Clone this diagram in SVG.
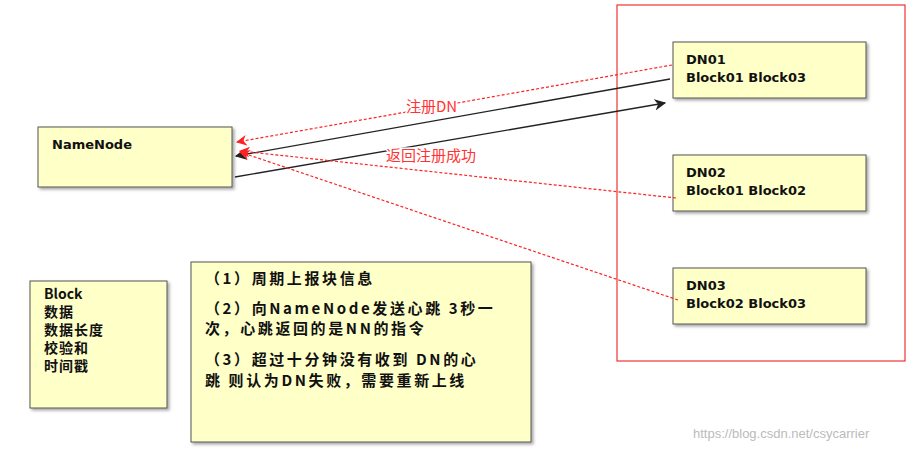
<svg xmlns="http://www.w3.org/2000/svg" width="913" height="452" viewBox="0 0 913 452">
<style>
.box{fill:#ffffc8;stroke:#555;stroke-width:1}
.t{font-family:"DejaVu Sans","Noto Sans CJK SC",sans-serif;font-weight:bold;font-size:13px;fill:#111}
.c{font-family:"Noto Sans CJK SC",sans-serif;font-weight:bold;font-size:15px;letter-spacing:2.6px;fill:#111}
.b{font-family:"Noto Sans CJK SC",sans-serif;font-weight:bold;font-size:14px;letter-spacing:1px;fill:#111}
.lbl{font-family:"Noto Sans CJK SC",sans-serif;font-size:15px;fill:#ff3333;stroke:#fff;stroke-width:3;paint-order:stroke}
.blk{stroke:#222;stroke-width:1.3;fill:none}
.red{stroke:#ff2222;stroke-width:1.2;stroke-dasharray:3 2;fill:none}
</style>
<defs>
<filter id="sh" x="-10%" y="-10%" width="130%" height="130%"><feDropShadow dx="2" dy="2" stdDeviation="1.5" flood-color="#000" flood-opacity="0.35"/></filter>
<marker id="ab" viewBox="0 0 10 10" refX="9" refY="5" markerWidth="9" markerHeight="9" orient="auto"><path d="M0,0 L10,5 L0,10 L3,5 z" fill="#222"/></marker>
<marker id="ar" viewBox="0 0 10 10" refX="9" refY="5" markerWidth="9" markerHeight="9" orient="auto"><path d="M0,0 L10,5 L0,10 L3,5 z" fill="#ff2222"/></marker>
</defs>
<rect x="617" y="5" width="288" height="356" fill="none" stroke="#ee3333" stroke-width="1.2"/>
<g id="namenode"><rect class="box" filter="url(#sh)" x="38" y="127" width="194" height="60"/><text class="t" x="52" y="149">NameNode</text></g>
<g id="block"><rect class="box" filter="url(#sh)" x="30" y="281" width="137" height="127"/>
<text class="b" x="44" y="299" style="letter-spacing:0">Block</text><text class="b" x="44" y="317">数据</text><text class="b" x="44" y="335">数据长度</text><text class="b" x="44" y="353">校验和</text><text class="b" x="44" y="371">时间戳</text></g>
<g id="info"><rect class="box" filter="url(#sh)" x="191" y="262" width="340" height="180"/>
<text class="c" x="205" y="284">（1）周期上报块信息</text>
<text class="c" x="205" y="314">（2）向NameNode发送心跳 3秒一</text>
<text class="c" x="205" y="334">次，心跳返回的是NN的指令</text>
<text class="c" x="205" y="365">（3）超过十分钟没有收到 DN的心</text>
<text class="c" x="205" y="386">跳 则认为DN失败，需要重新上线</text></g>
<g id="dn01"><rect class="box" filter="url(#sh)" x="673" y="42" width="193" height="56"/><text class="t" x="686" y="64">DN01</text><text class="t" x="686" y="82">Block01 Block03</text></g>
<g id="dn02"><rect class="box" filter="url(#sh)" x="673" y="155" width="193" height="56"/><text class="t" x="686" y="177">DN02</text><text class="t" x="686" y="195">Block01 Block02</text></g>
<g id="dn03"><rect class="box" filter="url(#sh)" x="673" y="268" width="193" height="56"/><text class="t" x="686" y="290">DN03</text><text class="t" x="686" y="308">Block02 Block03</text></g>
<g id="connectors">
<path class="blk" d="M670,79 L236,156" marker-end="url(#ab)"/>
<path class="blk" d="M235,177 L665,103" marker-end="url(#ab)"/>
<path class="red" d="M672,65 L237,142" marker-end="url(#ar)"/>
<path class="red" d="M676,198 L240,151" marker-end="url(#ar)"/>
<path class="red" d="M678,300 L240,152" marker-end="url(#ar)"/>
<text class="lbl" x="406" y="112">注册DN</text>
<text class="lbl" x="386" y="161">返回注册成功</text>
</g>
<text x="693" y="438" font-family="Liberation Sans,sans-serif" font-size="13" fill="#bbb">https://blog.csdn.net/csycarrier</text>
</svg>
